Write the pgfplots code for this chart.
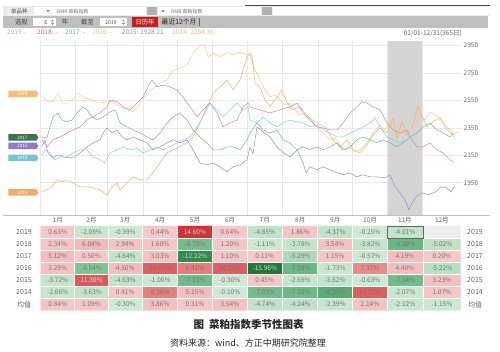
\documentclass[border=0pt]{standalone}
\usepackage{fontspec}
\setmainfont{Noto Sans CJK SC}
\usepackage{pgfplots}
\pgfplotsset{compat=1.18}
\usepackage{pgfplotstable}
\usetikzlibrary{shapes.symbols}
\newcommand\fs[1]{\fontsize{#1}{#1}\selectfont}
\definecolor{cA}{RGB}{135,205,220}  % 2019
\definecolor{cB}{RGB}{210,135,160}  % 2018
\definecolor{cC}{RGB}{110,185,140}  % 2017
\definecolor{cD}{RGB}{245,172,105}  % 2016
\definecolor{cE}{RGB}{158,135,208}  % 2015
\definecolor{cF}{RGB}{245,203,135}  % 2014
\definecolor{tgray}{RGB}{100,100,100}
\definecolor{cellt}{RGB}{115,115,115}
\definecolor{redbox}{RGB}{200,28,28}
\pgfplotsset{colormap={heat}{rgb255(0cm)=(35,120,55) rgb255(4cm)=(50,140,75) rgb255(7.5cm)=(100,182,128) rgb255(10cm)=(122,194,147) rgb255(10.5cm)=(128,196,150) rgb255(10.8cm)=(190,226,199) rgb255(15.95cm)=(206,234,213) rgb255(16cm)=(247,200,200) rgb255(22cm)=(243,186,186) rgb255(23cm)=(236,142,142) rgb255(27cm)=(222,92,92) rgb255(32cm)=(202,34,38) rgb255(32.5cm)=(238,238,238) rgb255(34cm)=(238,238,238)}}

\pgfplotstableread{
x y v
15.5 1 0.84
45 1 1.09
74.5 1 -0.30
105 1 3.86
135.5 1 0.31
166 1 3.54
196.5 1 -4.74
227.5 1 -4.24
258 1 -2.39
288.5 1 2.14
319 1 -2.12
351.35 1 -1.15
15.5 2 -2.66
45 2 -3.63
74.5 2 0.41
105 2 8.36
135.5 2 5.15
166 2 -0.10
196.5 2 -7.09
227.5 2 -7.56
258 2 -9.33
288.5 2 10.77
319 2 -2.07
351.35 2 1.07
15.5 3 -3.72
45 3 11.30
74.5 3 -4.63
105 3 -1.00
135.5 3 -7.11
166 3 -0.30
196.5 3 0.45
227.5 3 -2.69
258 3 -3.62
288.5 3 -0.63
319 3 -7.14
351.35 3 3.23
15.5 4 3.29
45 4 -5.54
74.5 4 4.50
105 4 10.75
135.5 4 8.41
166 4 10.72
196.5 4 -15.96
227.5 4 -7.98
258 4 -1.73
288.5 4 7.37
319 4 4.40
351.35 4 -5.22
15.5 5 5.12
45 5 0.50
74.5 5 -4.64
105 5 3.03
135.5 5 -12.22
166 5 1.10
196.5 5 0.11
227.5 5 -5.29
258 5 1.15
288.5 5 -0.57
319 5 4.19
351.35 5 0.20
15.5 6 2.34
45 6 6.04
74.5 6 2.94
105 6 1.60
135.5 6 -6.75
166 6 1.20
196.5 6 -1.11
227.5 6 -3.78
258 6 3.54
288.5 6 -3.82
319 6 -8.10
351.35 6 -5.02
15.5 7 0.63
45 7 -2.09
74.5 7 -0.39
105 7 0.44
135.5 7 14.60
166 7 0.64
196.5 7 -4.85
227.5 7 1.86
258 7 -4.37
288.5 7 -0.25
319 7 -4.01
351.35 7 17.5
}\heat

\begin{document}
\begin{tikzpicture}[x=1pt,y=1pt]
\path[use as bounding box] (0,0) rectangle (500,352);
% ---------- toolbar row 1
\fill[black!8] (3,335.5) rectangle (490,346);
\fill[white] (34,336.5) rectangle (146,345);
\fill[black!30] (147,336.5) rectangle (157,345);
\fill[white] (158,336.5) rectangle (261,345);
\fill[black!30] (262,336.5) rectangle (272,345);
\fill[white] (273,336.5) rectangle (490,345);
\draw[black!70, line width=0.8pt] (245,346.2) -- (490,346.2);
\node[anchor=west, font=\fs{5.5}, text=black!70, inner sep=0pt] at (11,340.7) {单品种};
\fill[black!50] (46.5,341.8) -- (49.5,341.8) -- (48,339.8) -- cycle;
\node[anchor=west, font=\fs{5}, text=black!55, inner sep=0pt] at (57,340.7) {RMR 菜粕指数};
\fill[black!50] (161.5,341.8) -- (164.5,341.8) -- (163,339.8) -- cycle;
\node[anchor=west, font=\fs{5}, text=black!55, inner sep=0pt] at (171,340.7) {RMR 菜粕指数};
% ---------- toolbar row 2
\fill[black!25] (3,324) rectangle (488,335.5);
\node[font=\fs{6.3}, text=black!75, inner sep=0pt] at (21.5,329.7) {选股};
\fill[white] (33,325.8) rectangle (56,333.5);
\node[font=\fs{5.5}, text=black!75, inner sep=0pt] at (46,329.7) {6};
\fill[black!50] (51,330.5) -- (54,330.5) -- (52.5,332.3) -- cycle;
\fill[black!50] (51,329) -- (54,329) -- (52.5,327.2) -- cycle;
\node[font=\fs{6.3}, text=black!75, inner sep=0pt] at (65,329.7) {年};
\node[font=\fs{6.3}, text=black!75, inner sep=0pt] at (87.5,329.7) {截至};
\fill[white] (100,325.8) rectangle (127,333.5);
\node[font=\fs{5}, text=black!75, inner sep=0pt] at (111,329.7) {2019};
\fill[black!50] (122,330.5) -- (125,330.5) -- (123.5,332.3) -- cycle;
\fill[black!50] (122,329) -- (125,329) -- (123.5,327.2) -- cycle;
\fill[redbox] (132,325) rectangle (158,334.5);
\node[font=\fs{6.3}, text=white, inner sep=0pt] at (145,329.7) {日历年};
\node[anchor=west, font=\fs{6.8}, text=black!85, inner sep=0pt] at (161.5,329.7) {最近12个月};
\draw[black!60, line width=0.5pt] (199.5,326) -- (199.5,333.5);
% ---------- legend row
\begin{scope}[every node/.style={anchor=west, inner sep=0pt, font=\fs{6.5}}]
\node[text={rgb,255:red,130;green,195;blue,225}] at (7,319.5) {2019 -};
\node[text={rgb,255:red,225;green,95;blue,110}] at (37,319.5) {2018: -};
\node[text={rgb,255:red,110;green,180;blue,140}] at (65,319.5) {2017: -};
\node[text={rgb,255:red,230;green,198;blue,110}] at (92,319.5) {2016: -};
\node[text={rgb,255:red,150;green,130;blue,200}] at (122,319.5) {2015: 1928.21};
\node[text={rgb,255:red,240;green,190;blue,110}] at (172,319.5) {2014: 2264.36};
\end{scope}
\node[anchor=east, inner sep=0pt, font=\fs{6.5}, text=tgray] at (462,319) {01/01-12/31(365日)};
% ---------- line chart
\begin{axis}[at={(40pt,136.6pt)}, anchor=south west, scale only axis,
  width=421.7pt, height=174.7pt,
  xmin=0, xmax=368.7, ymin=1712, ymax=2984,
  axis line style={draw=none},
  xtick={0,31,59,90,120,151,181,212,243,273,304,334}, xticklabels={},
  ytick={1950,2150,2350,2550,2750,2950}, yticklabel pos=right,
  grid=major, major grid style={black!9, line width=0.5pt},
  major tick length=0,
  /pgf/number format/1000 sep={}, /pgf/number format/assume math mode=true,
  yticklabel style={font=\fs{6.5}, text=tgray, anchor=west, inner sep=0pt, xshift=1.8pt},
  every axis plot/.append style={line width=0.5pt, line join=round}]
\fill[black!17] (axis cs:304,1712) rectangle (axis cs:334,2984);
\draw[black!25] (axis cs:368.7,1712) -- (axis cs:368.7,2984);
% 2014
\addplot[cF] coordinates {(1.7,2589) (4.4,2560) (6.1,2540) (11.4,2540) (15.7,2603) (20.1,2530) (23.6,2530) (28,2552) (33.2,2603) (39.3,2567) (46.3,2552) (52.5,2530) (58.6,2540) (63.8,2540) (70,2504) (76.1,2480) (81.3,2465) (85.7,2504) (90.1,2567) (96,2620) (104.9,2675) (111,2698) (116.3,2770) (122.4,2785) (128.5,2807) (133.8,2894) (139.9,2952) (144.3,2952) (146.9,2865) (151.3,2894) (157.4,2865) (163.5,2900) (168.8,2880) (174.9,2900) (181,2880) (183.6,2880) (188,2770) (192.4,2698) (196.7,2625) (201.1,2574) (205.5,2589) (209.9,2552) (214.2,2516) (218.6,2530) (223,2480) (227.3,2443) (231.7,2458) (236.1,2422) (240.4,2371) (244.8,2334) (249.2,2298) (253.6,2262) (258,2276) (262.3,2225) (266.7,2189) (271.1,2204) (275.4,2174) (279.8,2189) (284.2,2225) (288.6,2276) (292.9,2334) (297.3,2371) (301.7,2334) (306,2407) (310.4,2298) (314.8,2371) (319.2,2298) (323.5,2334) (327.9,2371) (332.3,2443) (336.6,2407) (341,2465) (345.4,2443) (349.8,2422) (354.1,2371) (358.5,2334) (362.9,2264)};
% 2016
\addplot[cD] coordinates {(1.7,1883) (6.1,1898) (10.5,1920) (14.9,1971) (19.2,1956) (23.6,1971) (28.9,1949) (35,1920) (41.1,1920) (46.3,1913) (52.5,1898) (58.6,1862) (63,1920) (67.3,1949) (70,1898) (76.1,1949) (81.3,1993) (87.4,1971) (93.6,1971) (98.8,2022) (104.9,2094) (111,2167) (116.3,2189) (122.4,2211) (128.5,2240) (133.8,2283) (139.9,2385) (146,2502) (151.3,2603) (157.4,2647) (163.5,2698) (168.8,2625) (174.9,2698) (181,2865) (183.6,2894) (185.4,2865) (188,2676) (192.4,2647) (196.7,2552) (201.1,2504) (207.2,2574) (211.6,2625) (216,2530) (221.2,2480) (227.3,2504) (234.3,2429) (242.2,2385) (249.2,2356) (256.2,2262) (262.3,2211) (268.4,2262) (273.7,2189) (279.8,2167) (285.9,2225) (291.2,2298) (297.3,2349) (303.4,2312) (308.7,2422) (312.2,2276) (316.6,2393) (320.9,2298) (326.2,2371) (330.5,2509) (334,2429) (338.4,2356) (343.6,2393) (349.8,2422) (355.9,2334) (361.2,2298) (364.7,2320)};
% 2018
\addplot[cB] coordinates {(1.7,2262) (6.1,2211) (11.4,2262) (17.5,2283) (23.6,2312) (28.9,2334) (35,2356) (41.1,2407) (46.3,2429) (52.5,2458) (58.6,2502) (61.2,2552) (67.3,2540) (72.6,2502) (78.7,2480) (84.8,2530) (90.1,2574) (94.4,2647) (97.9,2698) (102.3,2647) (107.6,2661) (113.7,2647) (119.8,2625) (125,2574) (131.2,2502) (137.3,2429) (142.5,2480) (148.6,2530) (154.8,2458) (160,2356) (166.1,2385) (172.3,2407) (177.5,2502) (181.9,2530) (183.6,2502) (192.4,2480) (201.1,2458) (209.9,2480) (218.6,2502) (224.7,2530) (230,2458) (236.1,2407) (242.2,2356) (247.5,2349) (253.6,2334) (259.7,2334) (265,2385) (271.1,2458) (277.2,2502) (281.6,2540) (285.9,2530) (291.2,2502) (297.3,2480) (303.4,2385) (308.7,2334) (314.8,2312) (320.9,2334) (323.5,2283) (329.6,2211) (334.9,2211) (341,2240) (347.1,2189) (352.4,2167) (358.5,2116) (361.2,2102)};
% 2017
\addplot[cC] coordinates {(1.7,2283) (6.1,2276) (8.7,2356) (11.4,2429) (15.7,2458) (19.2,2407) (23.6,2393) (28,2407) (32.4,2458) (37.6,2502) (41.1,2480) (45.5,2429) (49.8,2407) (55.1,2429) (61.2,2465) (65.6,2480) (70,2385) (76.1,2356) (81.3,2334) (87.4,2312) (93.6,2283) (98.8,2262) (104.9,2312) (111,2385) (116.3,2429) (122.4,2458) (128.5,2407) (133.8,2334) (139.9,2283) (146,2240) (151.3,2189) (157.4,2189) (163.5,2211) (168.8,2211) (174.9,2189) (181,2262) (183.6,2312) (189.7,2385) (195,2334) (201.1,2312) (207.2,2334) (212.5,2262) (218.6,2240) (224.7,2189) (230,2211) (236.1,2189) (242.2,2211) (247.5,2189) (253.6,2211) (259.7,2240) (265,2189) (271.1,2211) (277.2,2262) (282.4,2283) (288.6,2262) (294.7,2240) (299.9,2262) (306,2240) (312.2,2211) (317.4,2240) (323.5,2283) (329.6,2312) (334.9,2356) (341,2385) (347.1,2334) (352.4,2312) (358.5,2283) (361.2,2312)};
% 2015
\addplot[cE] coordinates {(1.7,2211) (4.4,2262) (7,2167) (11.4,2131) (15.7,2153) (20.1,2138) (26.2,2131) (30.6,2138) (35,2167) (41.1,2211) (46.3,2240) (52.5,2262) (55.1,2312) (58.6,2349) (63,2312) (67.3,2334) (71.7,2283) (76.1,2262) (81.3,2283) (87.4,2262) (93.6,2240) (98.8,2189) (104.9,2211) (111,2240) (116.3,2262) (122.4,2240) (128.5,2262) (133.8,2189) (139.9,2094) (146,2080) (151.3,2094) (157.4,2066) (163.5,2029) (168.8,2066) (174.9,2080) (181,2116) (183.6,2211) (186.2,2160) (189.7,2356) (195,2320) (201.1,2283) (207.2,2211) (213,2167) (218.6,2138) (224.7,2189) (230,2094) (232.6,2022) (236.1,2066) (242.2,2044) (247.5,2066) (253.6,2044) (259.7,2022) (265,2007) (271.1,2022) (276.3,1993) (282.4,2007) (288.6,1993) (294.7,1993) (301.7,1985) (306,2007) (310.4,1920) (314.8,1876) (319.2,1826) (322.5,1753) (325.3,1804) (328.8,1847) (334,1876) (340,1862) (346,1884) (350.6,1920) (355,1913) (359.4,1884) (362.9,1928)};
% 2019
\addplot[cA] coordinates {(1.7,2153) (4.4,2189) (8.7,2167) (13.1,2116) (17.5,2138) (23.6,2138) (28.9,2167) (35,2189) (41.1,2189) (46.3,2138) (52.5,2116) (56.8,2094) (61.2,2167) (67.3,2189) (72.6,2211) (78.7,2189) (84.8,2200) (90.1,2167) (96.2,2189) (102.3,2211) (107.6,2189) (113.7,2211) (119.8,2240) (125,2262) (131.2,2283) (137.3,2356) (142.5,2429) (148.6,2530) (154.8,2480) (160,2429) (166.1,2480) (172.3,2530) (177.5,2480) (181.9,2502) (183.6,2407) (189.7,2385) (195,2429) (201.1,2385) (207.2,2356) (212.5,2385) (218.6,2407) (224.7,2393) (230,2385) (236.1,2356) (242.2,2371) (247.5,2334) (253.6,2312) (259.7,2283) (265,2283) (271.1,2312) (277.2,2334) (282.4,2356) (288.6,2385) (292.9,2422) (297.3,2356) (303.4,2283) (308.7,2262) (314.8,2240) (320.9,2262) (325.3,2290)};
\end{axis}
\draw[black!25] (3,136.6) -- (490,136.6);
% ---------- heat table
\begin{axis}[at={(40pt,41.5pt)}, anchor=south west, scale only axis,
  width=421.7pt, height=84.5pt,
  xmin=0, xmax=368.7, ymin=0.5, ymax=7.5,
  axis on top, axis line style={draw=none},
  major tick length=0, minor tick length=0,
  xtick={15.5,45,74.5,105,135.5,166,196.5,227.5,258,288.5,319,351.35},
  xticklabels={1月,2月,3月,4月,5月,6月,7月,8月,9月,10月,11月,12月},
  xticklabel pos=upper,
  xticklabel style={font=\fs{6.5}, text=tgray, anchor=center, inner sep=0pt, yshift=6pt},
  ytick={1,2,3,4,5,6,7},
  yticklabels={均值,2014,2015,2016,2017,2018,2019},
  yticklabel style={font=\fs{7}, text=tgray, anchor=center, inner sep=0pt, xshift=-16pt},
  minor xtick={30.25,59.75,89.75,120.25,150.75,181.25,212,242.75,273.25,303.75,335.175},
  minor ytick={1.5,2.5,3.5,4.5,5.5,6.5},
  xmajorgrids=false, ymajorgrids=false, xminorgrids=true, yminorgrids=true,
  minor grid style={white, line width=1.1pt},
  colormap name=heat, point meta min=-16, point meta max=18,
  clip=false]
\addplot[matrix plot*, mesh/cols=12, point meta=explicit] table[meta=v]{\heat};
\addplot[only marks, mark=none, point meta=explicit,
  restrict x to domain=0:400,
  nodes near coords={\pgfmathprintnumber[fixed,fixed zerofill,precision=2,assume math mode=true]{\pgfplotspointmeta}\%},
  nodes near coords align=center,
  every node near coord/.append style={font=\fs{6.5}, text=cellt, inner sep=0pt}]
  table[x expr={abs(\thisrow{v})>11 ? 9999 : \thisrow{x}}, meta=v]{\heat};
\addplot[only marks, mark=none, point meta=explicit,
  restrict x to domain=0:400,
  nodes near coords={\pgfmathprintnumber[fixed,fixed zerofill,precision=2,assume math mode=true]{\pgfplotspointmeta}\%},
  nodes near coords align=center,
  every node near coord/.append style={font=\fs{6.5}, text=white!85!black, inner sep=0pt}]
  table[x expr={(abs(\thisrow{v})<11 || abs(\thisrow{v})>16.5) ? 9999 : \thisrow{x}}, meta=v]{\heat};
\node[font=\fs{7}, text=tgray, inner sep=0pt, xshift=13.3pt] at (axis cs:368.7,1) {均值};
\node[font=\fs{7}, text=tgray, inner sep=0pt, xshift=13.3pt] at (axis cs:368.7,2) {2014};
\node[font=\fs{7}, text=tgray, inner sep=0pt, xshift=13.3pt] at (axis cs:368.7,3) {2015};
\node[font=\fs{7}, text=tgray, inner sep=0pt, xshift=13.3pt] at (axis cs:368.7,4) {2016};
\node[font=\fs{7}, text=tgray, inner sep=0pt, xshift=13.3pt] at (axis cs:368.7,5) {2017};
\node[font=\fs{7}, text=tgray, inner sep=0pt, xshift=13.3pt] at (axis cs:368.7,6) {2018};
\node[font=\fs{7}, text=tgray, inner sep=0pt, xshift=13.3pt] at (axis cs:368.7,7) {2019};
\end{axis}
\draw[black!60, line width=0.6pt] (387.4,113.9) rectangle (423.3,126);
% ---------- tags
\begin{scope}[every node/.style={signal, signal to=east, signal pointer angle=120, text=white, font=\fs{4.5}, inner xsep=1pt, inner ysep=0pt, minimum height=6.5pt, minimum width=30pt, anchor=east}]
\node[fill={rgb,255:red,245;green,190;blue,120}] at (38.5,258) {2014};
\node[fill={rgb,255:red,60;green,115;blue,75}] at (38.5,214.5) {2017};
\node[fill={rgb,255:red,150;green,120;blue,200}] at (38.5,206) {2015};
\node[fill={rgb,255:red,120;green,195;blue,210}] at (38.5,194) {2019};
\node[fill={rgb,255:red,245;green,170;blue,100}] at (38.5,159.5) {2016};
\end{scope}
% ---------- caption
\node[font=\fs{10.5}\bfseries, text=black!85, inner sep=0pt] at (248.5,27) {图\hspace{5pt}菜粕指数季节性图表};
\node[font=\fs{9}, text=black!85, inner sep=0pt] at (248,9) {资料来源：wind、方正中期研究院整理};
\end{tikzpicture}
\end{document}
